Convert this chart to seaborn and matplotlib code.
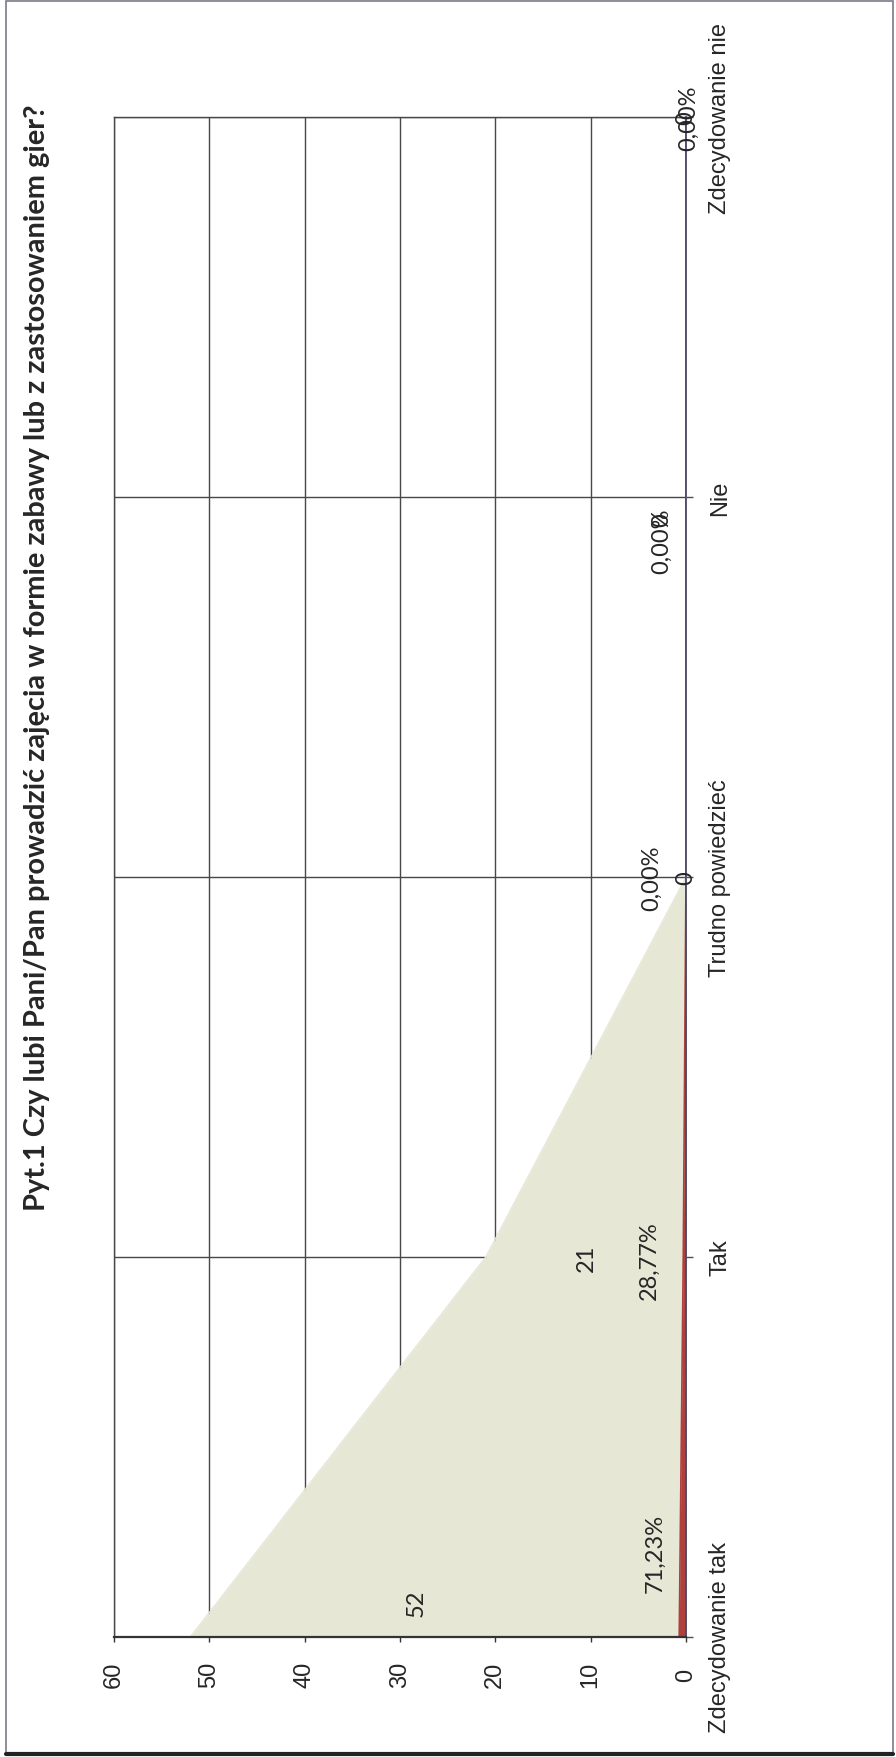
import numpy as np
import pandas as pd
import matplotlib
matplotlib.use("Agg")
import matplotlib.pyplot as plt
import seaborn as sns
from matplotlib.patches import Rectangle
from matplotlib.lines import Line2D

# ---- data ----
categories = ["Zdecydowanie tak", "Tak", "Trudno powiedzieć", "Nie", "Zdecydowanie nie"]
counts = [52, 21, 0, 0, 0]
percents = [71.23, 28.77, 0.00, 0.00, 0.00]
value_ticks = [0, 10, 20, 30, 40, 50, 60]
title = "Pyt.1 Czy lubi Pani/Pan prowadzić zajęcia w formie zabawy lub z zastosowaniem gier?"

# ---- style ----
FILL = "#e6e7d5"
RED = "#b0403e"
GRID = "#474747"
PX = 0.72  # points per pixel at dpi 100

sns.set_theme(style="white")
plt.rcParams['font.family'] = ['Liberation Sans', 'DejaVu Sans']
LABEL_FONT = ['Lato', 'DejaVu Sans']

W, H = 896, 1758
fig = plt.figure(figsize=(W / 100, H / 100), dpi=100)
fig.patch.set_facecolor("white")
ax = fig.add_axes([114 / W, 1 - 1638 / H, 572 / W, 1520 / H])

df = pd.DataFrame({
    "cat": categories,
    "pos": np.arange(len(categories)),
    "count": counts,
    "frac": np.array(percents) / 100.0,
})

# area series (count)
ax.fill_betweenx(df["pos"], 0, df["count"], color=FILL, lw=0, zorder=1)
sns.lineplot(data=df, x="count", y="pos", orient="y", sort=False, color=FILL,
             lw=1, ax=ax, zorder=1.1)
# area series (percent as fraction)
ax.fill_betweenx(df["pos"], 0, df["frac"], color=RED, lw=0, zorder=1.2)
sns.lineplot(data=df, x="frac", y="pos", orient="y", sort=False, color=RED,
             lw=1.2, ax=ax, zorder=1.3)

ax.set_xlim(60, 0)
ax.set_ylim(0, len(categories) - 1)
ax.set_xlabel("")
ax.set_ylabel("")

ax.set_xticks(value_ticks)
ax.set_xticklabels([str(v) for v in value_ticks])
ax.set_yticks(df["pos"])
ax.set_yticklabels(categories)
ax.yaxis.tick_right()

ax.tick_params(axis='x', bottom=True, direction='out', length=5 * PX, width=1,
               color="#333333", pad=32 * PX, labelsize=17, labelrotation=90)
ax.tick_params(axis='y', right=True, left=False, direction='out', length=7 * PX,
               width=1, color="#4b4b66", pad=27 * PX, labelsize=17,
               labelrotation=90)
plt.setp(ax.get_xticklabels(), va='center', ha='center')
plt.setp(ax.get_yticklabels(), va='center', ha='center')

ax.grid(True, axis='both', color=GRID, lw=1.0)
ax.set_axisbelow(True)

for side in ["left", "top"]:
    ax.spines[side].set_color(GRID)
    ax.spines[side].set_linewidth(1.0)
ax.spines["bottom"].set_color("#333333")
ax.spines["bottom"].set_linewidth(1.6)
ax.spines["right"].set_color("#4b4b66")
ax.spines["right"].set_linewidth(1.3)
for s in ax.spines.values():
    s.set_zorder(3)

# data labels
val_offsets = [(-22, 35), (0, 0), (0, 0), (-24, -22), (0, 0)]
pct_offsets = [(-31, 85), (-37, -3), (-34, 0), (-24, -43), (3, 0)]
for i, (c, p) in enumerate(zip(counts, percents)):
    ax.annotate(str(c), xy=(c / 2, i),
                xytext=(val_offsets[i][0] * PX, val_offsets[i][1] * PX),
                textcoords='offset points', rotation=90, ha='center',
                va='center', fontsize=17, family=LABEL_FONT,
                annotation_clip=False, zorder=5)
    ax.annotate(f"{p:.2f}%".replace(".", ","), xy=(0, i),
                xytext=(pct_offsets[i][0] * PX, pct_offsets[i][1] * PX),
                textcoords='offset points', rotation=90, ha='center',
                va='center', fontsize=17, family=LABEL_FONT,
                annotation_clip=False, zorder=5)

# title
t = fig.text(37 / W, 1 - 658 / H, title, rotation=90, ha='center', va='center',
             fontsize=19, fontweight='bold', family=LABEL_FONT)
fig.canvas.draw()
h = t.get_window_extent().height
t.set_fontsize(19 * 1103 / h)

# page frame
fig.add_artist(Rectangle((6 / W, 3 / H), 887 / W, 1753 / H,
                         transform=fig.transFigure, fill=False,
                         ec="#7a7a8a", lw=1.2))
fig.add_artist(Line2D([6 / W, 893 / W], [3 / H, 3 / H],
                      transform=fig.transFigure, color="#222222", lw=3))

fig.savefig("out.png", dpi=100)
